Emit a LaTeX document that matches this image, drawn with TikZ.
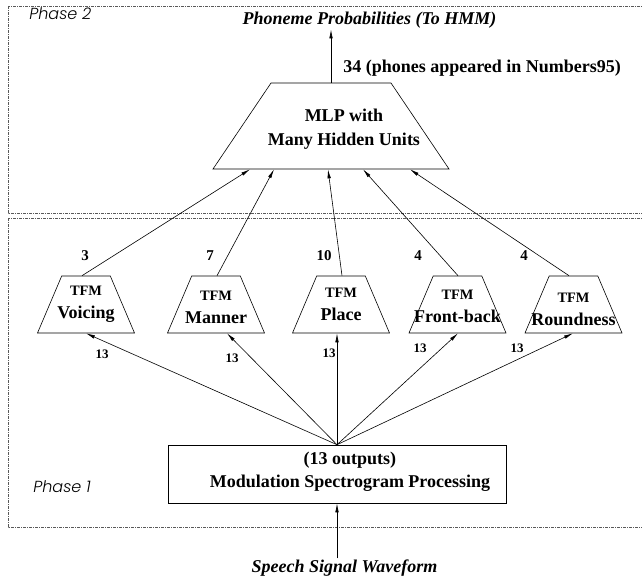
\documentclass[tikz,border=0pt]{standalone}
\usepackage{fontspec}
\setmainfont{Liberation Serif}
\newfontfamily\phasefont{Poppins}[UprightFont=* Light, ItalicFont=* Light Italic]
\usetikzlibrary{shapes.geometric, arrows.meta, calc}
\tikzset{phasebox/.style={draw=black!65, line width=0.5pt, dash pattern=on 3pt off 1pt on 1pt off 1pt}}
\tikzset{tfm/.style={draw, trapezium, trapezium angle=67, trapezium stretches body=true, minimum width=97pt, text height=0pt, text depth=0pt, inner xsep=2pt, inner ysep=28.5pt}}
\tikzset{tfmtext/.style={align=center, inner sep=0pt, font=\bfseries\fontsize{18}{23}\selectfont}}
\tikzset{mlpbox/.style={draw, trapezium, trapezium angle=56, trapezium stretches body=true, minimum width=236pt, text height=0pt, text depth=0pt, inner xsep=2pt, inner ysep=43pt}}
\tikzset{feed/.style={-{Latex[length=9pt, width=3.5pt]}}}
\tikzset{big/.style={font=\bfseries\fontsize{18}{23.5}\selectfont, align=center, inner sep=1pt}}
\tikzset{bigit/.style={big, font=\bfseries\itshape\fontsize{18}{22}\selectfont}}
\tikzset{outnum/.style={font=\bfseries\fontsize{15}{18}\selectfont, inner sep=0pt}}
\tikzset{innum/.style={font=\bfseries\fontsize{13}{15}\selectfont, inner sep=0pt}}
\tikzset{phase/.style={font=\phasefont\itshape\fontsize{16}{19}\selectfont, inner sep=0pt}}
\newcommand{\tfmlabel}[1]{\makebox[0pt]{\fontsize{14.4}{17}\selectfont TFM}\\\makebox[0pt]{#1}}

\begin{document}
\begin{tikzpicture}[x=1pt, y=-1pt, line width=0.6pt]
            \useasboundingbox (0,0) rectangle (642,579);
            \draw[phasebox] (8,6) rectangle (660,213);
            \draw[phasebox] (8,218) rectangle (660,527);
            \node[phase, anchor=west] (ph2) at (29,14) {Phase 2};
            \node[phase, anchor=west] (ph1) at (33,487) {Phase 1};
            % phase 2
            \node[mlpbox] (mlp) at (331,126) {};
            \node[big] (mlptext) at (344,129) {MLP with\\Many Hidden Units};
            \node[bigit] (phon) at (369.5,20) {Phoneme Probabilities (To HMM)};
            \node[big, anchor=west] (nphon) at (342,68) {34 (phones appeared in Numbers95)};
            \draw[feed] (mlp.north) -- (mlp.north |- phon.south);
            % phase 1
            \foreach \name/\x/\txt/\dy in {voicing/86/Voicing/0, manner/216/Manner/3, place/341/Place/0, frontback/457.5/Front-back/2, roundness/573.5/Roundness/5} {
                \node[tfm, label={[tfmtext, yshift=-\dy]center:\tfmlabel{\txt}}] (\name) at (\x,304.5) {};
            }
            \node[draw, minimum width=338pt, minimum height=58pt] (msp) at (337,474) {};
            \node[big] (msptext) at (350,471.5) {(13 outputs)\\Modulation Spectrogram Processing};
            \node[bigit] (speech) at (344.5,568) {Speech Signal Waveform};
            \draw[feed] (speech.north -| msp.south) -- (msp.south);
            \foreach \tfm/\sx/\dx in {voicing/-4/-81, manner/1/-57, place/1/-3, frontback/0.5/32, roundness/-4.5/79} {
                \draw[feed] ([xshift=\sx]\tfm.north) -- ([xshift=\dx]mlp.south);
            }
            \foreach \tfm/\dx in {voicing/0, manner/11, place/-4, frontback/0.5, roundness/-0.5} {
                \draw[feed] (msp.north) -- ([xshift=\dx]\tfm.south);
            }
            \foreach \x/\n [count=\i] in {85/3, 210/7, 324/10, 418/4, 524/4} {
                \node[outnum] (out\i) at (\x,256) {\n};
            }
            \foreach \x/\y [count=\i] in {102/354, 232/358, 329/353, 420/348, 517/348} {
                \node[innum] (in\i) at (\x,\y) {13};
            }
\end{tikzpicture}
\end{document}
